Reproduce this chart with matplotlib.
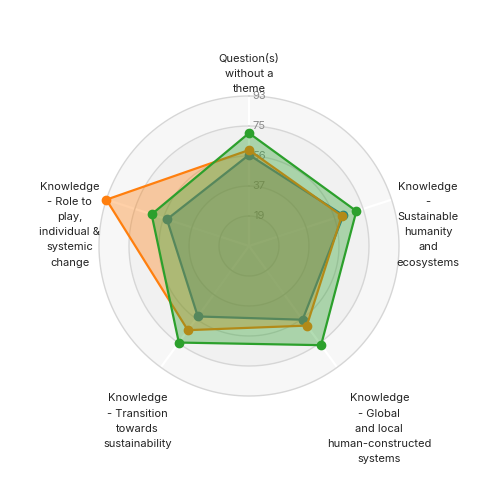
import numpy as np
import matplotlib.pyplot as plt

plt.rcParams['font.family'] = ['Inter', 'DejaVu Sans']

# ---- dados ----
categorias = [
    "Question(s)\nwithout a\ntheme",
    "Knowledge\n-\nSustainable\nhumanity\nand\necosystems",
    "Knowledge\n- Global\nand local\nhuman-constructed\nsystems",
    "Knowledge\n- Transition\ntowards\nsustainability",
    "Knowledge\n- Role to\nplay,\nindividual &\nsystemic\nchange",
]
serie_azul    = [56.5, 61.5, 56.5, 54.0, 53.5]
serie_laranja = [59.5, 60.5, 61.0, 64.5, 93.0]
serie_verde   = [70.0, 70.0, 76.0, 74.0, 63.5]
ticks_val = [18.6, 37.2, 55.8, 74.4, 93.0]
ticks_lbl = ["19", "37", "56", "75", "93"]
r_max = 93.0

n = len(categorias)
ang = np.arange(n) * 2 * np.pi / n

fig = plt.figure(figsize=(5, 5), dpi=100)
ax = fig.add_axes([0.198, 0.208, 0.6, 0.6], projection='polar')
ax.set_theta_offset(np.pi / 2)
ax.set_theta_direction(-1)
ax.set_ylim(0, r_max)
ax.grid(False)
ax.set_xticks([])
ax.set_yticks([])
ax.spines['polar'].set_visible(False)
ax.set_facecolor('none')

# faixas de fundo
th = np.linspace(0, 2 * np.pi, 361)
bordas = [0] + ticks_val
cores_faixa = ['#f2f2f2', '#f6f6f6', '#f2f2f2', '#f1f1f1', '#f7f7f7']
for i in range(len(ticks_val)):
    ax.fill_between(th, bordas[i], bordas[i + 1], color=cores_faixa[i], lw=0, zorder=0)

# linhas radiais (brancas) e círculos
for a in ang:
    ax.plot([a, a], [0, r_max], color='white', lw=1.6, zorder=1, clip_on=False)
for v in ticks_val:
    ax.plot(th, np.full_like(th, v), color='#d6d6d6', lw=1.0, zorder=1, clip_on=False)

# rótulos dos ticks
for v, s in zip(ticks_val, ticks_lbl):
    ax.annotate(s, xy=(0, v), xytext=(10, 0), textcoords='offset pixels',
                ha='center', va='center', fontsize=8, color='#8a8a8a', zorder=2)

# séries
a_fech = np.append(ang, ang[0])
for dados, cor in [(serie_azul, '#1f77b4'), (serie_laranja, '#ff7f0e'), (serie_verde, '#2ca02c')]:
    d = np.append(dados, dados[0])
    ax.fill(a_fech, d, color=cor, alpha=0.36, lw=0, zorder=3)
    ax.plot(a_fech, d, color=cor, lw=1.6, zorder=3, clip_on=False)
    ax.plot(ang, dados, 'o', color=cor, ms=6, zorder=3, clip_on=False)

# rótulos das categorias
pos = [
    dict(ha='center', va='bottom', off=(0, 2)),
    dict(ha='left', va='top', off=(5, 18)),
    dict(ha='left', va='top', off=(-10, -26)),
    dict(ha='right', va='top', off=(11, -26)),
    dict(ha='right', va='top', off=(-6, 18)),
]
for a, txt, p in zip(ang, categorias, pos):
    ax.annotate(txt, xy=(a, r_max), xytext=p['off'], textcoords='offset pixels',
                ha=p['ha'], va=p['va'], multialignment='center',
                fontsize=8, color='#222222', linespacing=1.65, zorder=5,
                annotation_clip=False)

fig.savefig('out.png', dpi=100)
